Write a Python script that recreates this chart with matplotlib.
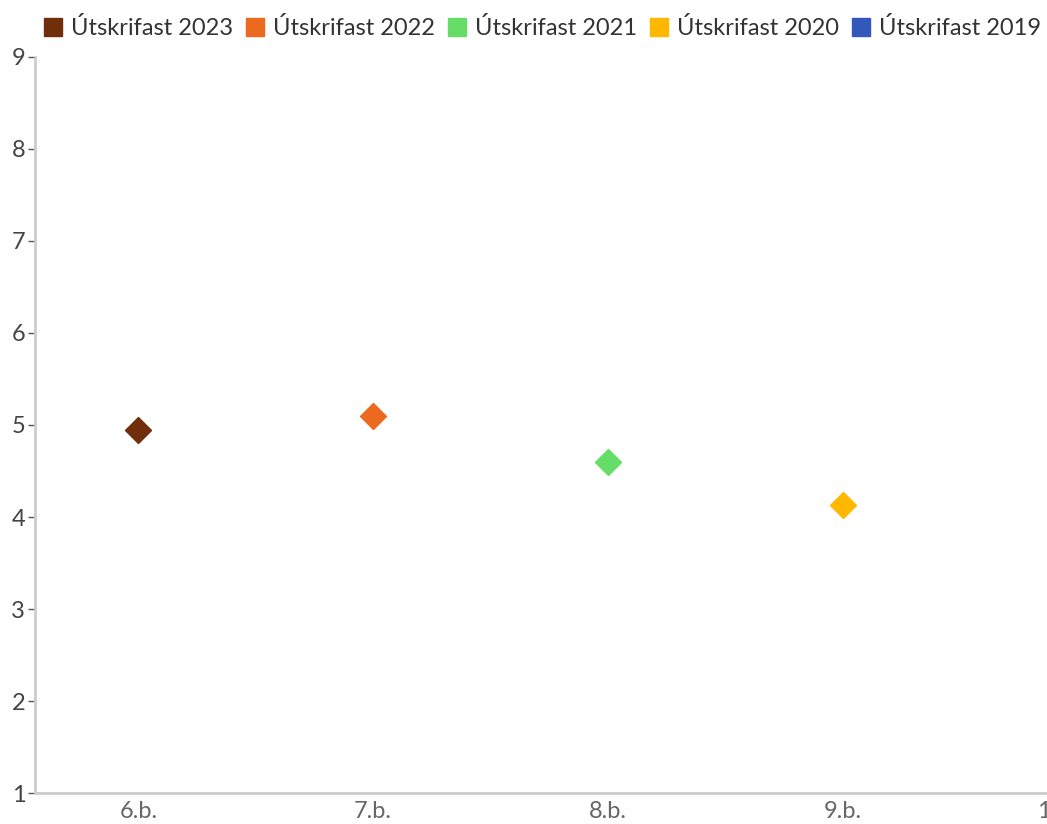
import matplotlib
matplotlib.use("Agg")
import matplotlib.pyplot as plt
from matplotlib.lines import Line2D

categories = ["6.b.", "7.b.", "8.b.", "9.b.", "10.b."]
series_names = ["Útskrifast 2023", "Útskrifast 2022", "Útskrifast 2021", "Útskrifast 2020", "Útskrifast 2019"]
series_category = ["6.b.", "7.b.", "8.b.", "9.b.", "10.b."]
series_values = [4.95, 5.1, 4.6, 4.13, None]
colors = ["#702E0A", "#EB6A1F", "#66DD66", "#FFB700", "#3358BB"]
y_ticks = [1, 2, 3, 4, 5, 6, 7, 8, 9]

plt.rcParams['font.family'] = ['Lato', 'DejaVu Sans']

fig = plt.figure(figsize=(10.47, 8.24), dpi=100)
ax = fig.add_axes([35 / 1047, 1 - 793 / 824, 1 - 35 / 1047, (793 - 57) / 824])

handles = []
for name, cat, val, col in zip(series_names, series_category, series_values, colors):
    x = categories.index(cat)
    if val is not None:
        ax.plot([x], [val], marker='D', markersize=13, color=col, linestyle='none', zorder=3)
    handles.append(Line2D([], [], marker='s', markersize=13, color=col, linestyle='none', label=name))

ax.set_ylim(1, 9)
ax.set_yticks(y_ticks)
ax.set_xlim(-0.44, 3.87)
ax.set_xticks(range(4))
ax.set_xticklabels(categories[:4])
ax.annotate(categories[4], xy=(1, 0), xycoords='axes fraction', xytext=(-7, -6),
            textcoords='offset points', ha='left', va='top', fontsize=17, color='#666666',
            annotation_clip=False)

for s in ['top', 'right']:
    ax.spines[s].set_visible(False)
for s in ['left', 'bottom']:
    ax.spines[s].set_color('#CCCCCC')
    ax.spines[s].set_linewidth(2)
ax.tick_params(axis='y', length=5, width=1, color='#555555', labelsize=17, labelcolor='#444444', pad=2)
ax.tick_params(axis='x', length=0, labelsize=17, labelcolor='#666666', pad=6)

fig.legend(handles=handles, loc='upper center', bbox_to_anchor=(0.518, 1.005), ncol=5, frameon=False,
           fontsize=17, handlelength=0.8, handletextpad=0.35, columnspacing=0.55, labelcolor='#333333')

fig.savefig("out.png", dpi=100)
